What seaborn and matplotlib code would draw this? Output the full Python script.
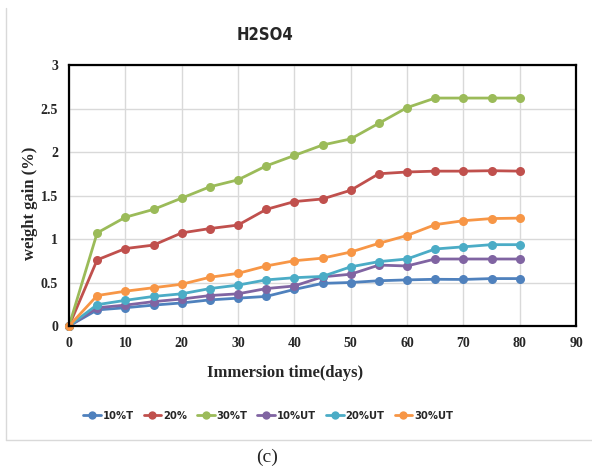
import matplotlib
matplotlib.use("Agg")
import matplotlib.pyplot as plt
import seaborn as sns
import pandas as pd
from matplotlib.lines import Line2D

days = [0, 5, 10, 15, 20, 25, 30, 35, 40, 45, 50, 55, 60, 65, 70, 75, 80]
s10T = [0, 0.185, 0.21, 0.24, 0.265, 0.30, 0.32, 0.34, 0.42, 0.49, 0.50, 0.52, 0.53, 0.537, 0.535, 0.545, 0.545]
s20 = [0, 0.76, 0.89, 0.93, 1.07, 1.12, 1.16, 1.34, 1.43, 1.46, 1.56, 1.75, 1.77, 1.78, 1.78, 1.785, 1.78]
s30T = [0, 1.07, 1.25, 1.34, 1.47, 1.60, 1.68, 1.84, 1.96, 2.08, 2.15, 2.33, 2.51, 2.62, 2.62, 2.62, 2.62]
s10UT = [0, 0.21, 0.24, 0.28, 0.31, 0.35, 0.37, 0.43, 0.46, 0.565, 0.595, 0.70, 0.69, 0.77, 0.77, 0.77, 0.77]
s20UT = [0, 0.245, 0.295, 0.34, 0.37, 0.43, 0.47, 0.53, 0.555, 0.57, 0.68, 0.74, 0.77, 0.885, 0.91, 0.935, 0.935]
s30UT = [0, 0.35, 0.40, 0.44, 0.48, 0.56, 0.605, 0.69, 0.75, 0.78, 0.85, 0.95, 1.04, 1.165, 1.21, 1.235, 1.24]

labels = ["10%T", "20%", "30%T", "10%UT", "20%UT", "30%UT"]
series = [s10T, s20, s30T, s10UT, s20UT, s30UT]
colors = ["#4F81BD", "#C0504D", "#9BBB59", "#8064A2", "#4BACC6", "#F79646"]

rows = []
for lab, vals in zip(labels, series):
    for d, v in zip(days, vals):
        rows.append({"days": d, "gain": v, "series": lab})
df = pd.DataFrame(rows)

sns.set_theme(style="white")
plt.rcParams["font.family"] = ["Liberation Serif", "DejaVu Serif"]

fig = plt.figure(figsize=(5.92, 4.69), dpi=100)
ax = fig.add_axes([69/592, 1-326/469, (576-69)/592, (326-65)/469])

sns.lineplot(data=df, x="days", y="gain", hue="series", hue_order=labels,
             palette=colors, marker="o", markersize=6.5, markeredgewidth=0,
             linewidth=2, ax=ax, legend=False)

ax.set_xlim(0, 90)
ax.set_ylim(0, 3)
ax.set_xticks(range(0, 91, 10))
ax.set_yticks([0, 0.5, 1, 1.5, 2, 2.5, 3])
ax.set_yticklabels(["0", "0.5", "1", "1.5", "2", "2.5", "3"])
ax.grid(True, color="#D9D9D9", linewidth=1)
ax.set_axisbelow(True)
for sp in ax.spines.values():
    sp.set_color("black")
    sp.set_linewidth(1.6)
ax.tick_params(axis="both", length=0, labelsize=10, pad=8)
for t in ax.get_xticklabels() + ax.get_yticklabels():
    t.set_fontweight("bold")
ax.set_xlabel("")
ax.set_ylabel("")
for line in ax.lines:
    line.set_clip_on(False)

fig.text(30/592, 1-203/469, "weight gain (%)", rotation=90, ha="center", va="center",
         fontsize=12, fontweight="bold", family=["Liberation Serif"])
fig.text(285/592, 1-373/469, "Immersion time(days)", ha="center", va="center",
         fontsize=12, fontweight="bold", family=["Liberation Serif"])
fig.text(265/592, 1-35/469, "H2SO4", ha="center", va="center",
         fontsize=12, fontweight="bold", fontstretch="condensed",
         family=["DejaVu Sans"])
fig.text(267/592, 1-457/469, "(c)", ha="center", va="center",
         fontsize=14, family=["Liberation Serif"])

handles = [Line2D([0], [0], color=c, marker="o", markersize=6, linewidth=2, markeredgewidth=0)
           for c in colors]
leg = fig.legend(handles, labels, loc="center", bbox_to_anchor=(268/592, 1-416/469), ncol=6,
                 frameon=False, handlelength=1.6, handletextpad=0.15, columnspacing=0.9,
                 prop={"family": ["DejaVu Sans"], "stretch": "condensed",
                       "weight": "bold", "size": 8})

# outer chart frame (left and bottom edges visible)
fig.add_artist(Line2D([6/592, 6/592], [1-440/469, 1-8/469], color="#D9D9D9", linewidth=1,
                      transform=fig.transFigure))
fig.add_artist(Line2D([6/592, 1.0], [1-440/469, 1-440/469], color="#D9D9D9", linewidth=1,
                      transform=fig.transFigure))

fig.savefig("out.png", dpi=100)
